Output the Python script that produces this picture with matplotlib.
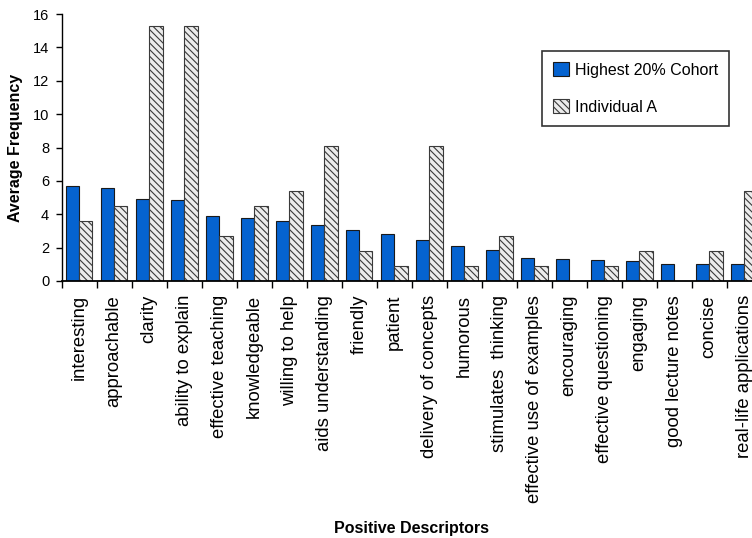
import numpy as np
import matplotlib
matplotlib.use("Agg")
import matplotlib.pyplot as plt

plt.rcParams['font.family'] = ['Liberation Sans', 'DejaVu Sans']
plt.rcParams['hatch.color'] = '#9a9a9a'
plt.rcParams['hatch.linewidth'] = 0.8

categories = [
    "interesting", "approachable", "clarity", "ability to explain",
    "effective teaching", "knowledgeable", "willing to help",
    "aids understanding", "friendly", "patient", "delivery of concepts",
    "humorous", "stimulates  thinking", "effective use of examples",
    "encouraging", "effective questioning", "engaging",
    "good lecture notes", "concise", "real-life applications",
]
cohort = [5.68, 5.6, 4.92, 4.84, 3.88, 3.76, 3.6, 3.36, 3.08, 2.84,
          2.48, 2.08, 1.88, 1.4, 1.34, 1.28, 1.2, 1.04, 1.04, 1.04]
individual = [3.6, 4.5, 15.3, 15.3, 2.7, 4.5, 5.4, 8.1, 1.8, 0.9,
              8.1, 0.9, 2.7, 0.9, 0.0, 0.9, 1.8, 0.0, 1.8, 5.4]
series_names = ["Highest 20% Cohort", "Individual A"]
yticks = [0, 2, 4, 6, 8, 10, 12, 14, 16]

W, H = 752, 538
fig = plt.figure(figsize=(W / 100, H / 100), dpi=100)
ax = fig.add_axes([61.7 / W, (H - 281) / H, 700 / W, 267 / H])

x = np.arange(len(categories))
bw = 0.38
ax.bar(x - bw / 2, cohort, bw, color='#0563d0', edgecolor='#1a1a1a',
       linewidth=0.8, label=series_names[0])
ax.bar(x + bw / 2, individual, bw, color='#ececec', edgecolor='#3a3a3a',
       linewidth=0.8, hatch='\\\\\\\\\\', label=series_names[1])

ax.set_xlim(-0.5, len(categories) - 0.5)
ax.set_ylim(0, 16)
ax.set_yticks(yticks)
ax.tick_params(axis='y', direction='out', length=4, width=1, labelsize=10.5, pad=5)

# category boundaries carry the tick marks, centres carry the labels
ax.set_xticks(np.arange(len(categories) + 1) - 0.5)
ax.set_xticklabels([])
ax.tick_params(axis='x', direction='out', length=5, width=1)
ax.set_xticks(x, minor=True)
ax.set_xticklabels(categories, minor=True, rotation=90, fontsize=13.3)
ax.tick_params(axis='x', which='minor', length=0, pad=10)

for s in ['top', 'right']:
    ax.spines[s].set_visible(False)
ax.spines['left'].set_linewidth(1)
ax.spines['bottom'].set_linewidth(1.3)

ax.set_ylabel("Average Frequency", fontsize=11.5, fontweight='bold', labelpad=7)
ax.set_xlabel("Positive Descriptors", fontsize=11.5, fontweight='bold', labelpad=13)

leg = ax.legend(loc='upper left', bbox_to_anchor=(0.686, 0.861), borderaxespad=0,
                frameon=True, fancybox=False, fontsize=11.5, handlelength=1.0,
                handleheight=0.95, labelspacing=1.35, borderpad=0.7,
                handletextpad=0.35)
leg.get_frame().set_edgecolor('black')
leg.get_frame().set_linewidth(1.2)

fig.savefig("out.png", dpi=100)
